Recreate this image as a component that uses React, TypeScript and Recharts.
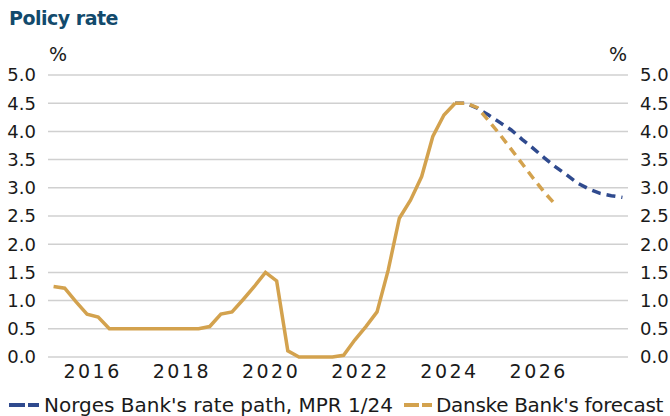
import React from 'react';
import { LineChart, Line, XAxis, YAxis, CartesianGrid, Legend } from 'recharts';

// Quarterly observations, plotted at mid-quarter (decimal years)
const historyStart = 2015.125;
const historyValues = [
  1.25, 1.22, 0.98, 0.76,
  0.71, 0.5, 0.5, 0.5,
  0.5, 0.5, 0.5, 0.5,
  0.5, 0.5, 0.54, 0.76,
  0.8, 1.02, 1.25, 1.5,
  1.35, 0.11, 0.0, 0.0,
  0.0, 0.0, 0.03, 0.3,
  0.54, 0.8, 1.54, 2.46,
  2.78, 3.2, 3.91, 4.29,
  4.5,
];
const forecastStart = 2024.125;
const norgesPath = [4.5, 4.5, 4.41, 4.29, 4.16, 4.03, 3.86, 3.7, 3.53, 3.37, 3.23, 3.08, 2.98, 2.9, 2.86, 2.83];
const danskePath = [4.5, 4.5, 4.42, 4.19, 3.95, 3.69, 3.43, 3.17, 2.92, 2.7];
const xTicks = [2016, 2018, 2020, 2022, 2024, 2026];
const yTicks = [0, 0.5, 1, 1.5, 2, 2.5, 3, 3.5, 4, 4.5, 5];

const BLUE = '#2f4a8e';
const GOLD = '#d3a24e';
const TEXT = '#1a1a1a';
const FONT = '"DejaVu Sans", sans-serif';

type Row = { t: number; hist?: number; norges?: number; danske?: number };
const rowMap = new Map<string, Row>();
const getRow = (t: number): Row => {
  const k = t.toFixed(3);
  if (!rowMap.has(k)) rowMap.set(k, { t });
  return rowMap.get(k)!;
};
historyValues.forEach((v, i) => { getRow(historyStart + 0.25 * i).hist = v; });
norgesPath.forEach((v, i) => { getRow(forecastStart + 0.25 * i).norges = v; });
danskePath.forEach((v, i) => { getRow(forecastStart + 0.25 * i).danske = v; });
const data = Array.from(rowMap.values()).sort((a, b) => a.t - b.t);

const Icon = ({ color, w }: { color: string; w: number }) => (
  <svg width={w} height={10} style={{ display: 'block' }}>
    <line x1={0} y1={5} x2={w} y2={5} stroke={color} strokeWidth={4} strokeDasharray={`${Math.round(w * 0.52)} 3`} />
  </svg>
);

const LegendContent = () => (
  <div style={{ display: 'flex', alignItems: 'center', fontFamily: FONT, fontSize: 20, color: TEXT, paddingLeft: 9, whiteSpace: 'nowrap', lineHeight: '22px', height: 22 }}>
    <Icon color={BLUE} w={30} />
    <span style={{ marginLeft: 5 }}>Norges Bank's rate path, MPR 1/24</span>
    <span style={{ marginLeft: 11 }}><Icon color={GOLD} w={28} /></span>
    <span style={{ marginLeft: 4, letterSpacing: -0.3 }}>Danske Bank's forecast</span>
  </div>
);

export default function App() {
  return (
    <div style={{ position: 'absolute', left: 0, top: 0, width: 670, height: 416, background: '#fff' }}>
      <div style={{ position: 'absolute', left: 9, top: 7, fontFamily: FONT, fontWeight: 'bold', fontSize: 19, color: '#124a6c', letterSpacing: -0.5 }}>
        Policy rate
      </div>
      <LineChart width={670} height={416} data={data} margin={{ top: 75, right: 0, left: 0, bottom: 0 }}>
        <CartesianGrid yAxisId="left" horizontal vertical={false} stroke="#d0d0d0" strokeWidth={1.5} />
        <XAxis
          dataKey="t"
          type="number"
          domain={[2015, 2028]}
          ticks={xTicks}
          height={37}
          tickLine={false}
          axisLine={false}
          tickSize={0}
          tickMargin={8}
          tick={{ fontFamily: FONT, fontSize: 19, fill: TEXT, letterSpacing: 2.5 }}
        />
        <YAxis
          yAxisId="left"
          orientation="left"
          domain={[0, 5]}
          ticks={yTicks}
          width={48}
          tickLine={false}
          axisLine={false}
          tickSize={0}
          tickMargin={12}
          tickFormatter={(v: number) => v.toFixed(1)}
          tick={{ fontFamily: FONT, fontSize: 18, fill: TEXT }}
        />
        <YAxis
          yAxisId="right"
          orientation="right"
          domain={[0, 5]}
          ticks={yTicks}
          width={42}
          tickLine={false}
          axisLine={false}
          tickSize={0}
          tickMargin={12}
          tickFormatter={(v: number) => v.toFixed(1)}
          tick={{ fontFamily: FONT, fontSize: 18, fill: TEXT }}
        />
        <text x={58} y={61} textAnchor="middle" fontFamily={FONT} fontSize={19} fill={TEXT}>%</text>
        <text x={618} y={61} textAnchor="middle" fontFamily={FONT} fontSize={19} fill={TEXT}>%</text>
        <Line yAxisId="left" dataKey="norges" stroke={BLUE} strokeWidth={3.5} strokeDasharray="9 6" dot={false} connectNulls isAnimationActive={false} />
        <Line yAxisId="left" dataKey="danske" stroke={GOLD} strokeWidth={3.5} strokeDasharray="9 6" dot={false} connectNulls isAnimationActive={false} />
        <Line yAxisId="right" dataKey="hist" stroke={GOLD} strokeWidth={3.5} dot={false} connectNulls isAnimationActive={false} />
        <Legend verticalAlign="bottom" height={22} content={<LegendContent />} wrapperStyle={{ left: 0, width: 670 }} />
      </LineChart>
    </div>
  );
}
